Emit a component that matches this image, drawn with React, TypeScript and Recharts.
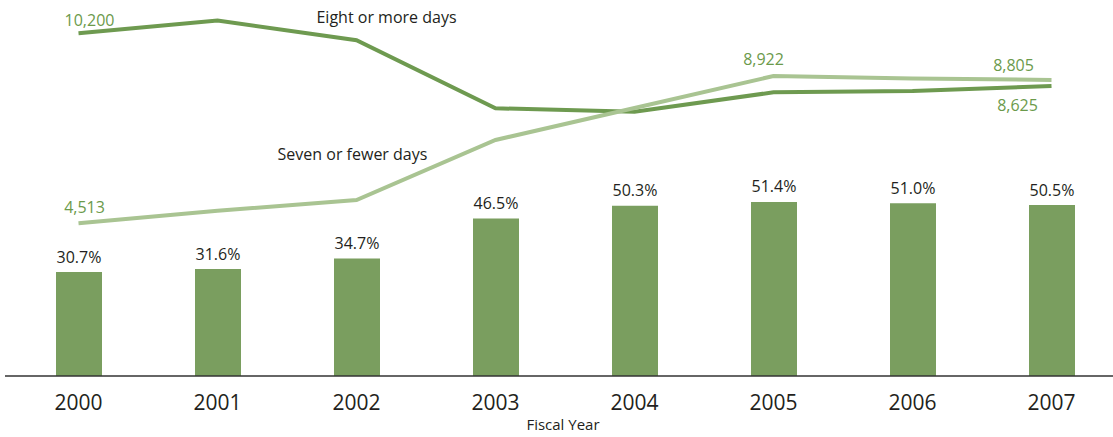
import React from 'react';
import { ComposedChart, Bar, Line, XAxis, YAxis, LabelList, Label } from 'recharts';

const years = ['2000', '2001', '2002', '2003', '2004', '2005', '2006', '2007'];
const sharePct = [30.7, 31.6, 34.7, 46.5, 50.3, 51.4, 51.0, 50.5];
const eightOrMore = [10200, 10580, 9990, 7955, 7853, 8434, 8473, 8625];
const sevenOrFewer = [4513, 4890, 5211, 7006, 7964, 8922, 8847, 8805];
const eightName = 'Eight or more days';
const sevenName = 'Seven or fewer days';
const axisTitle = 'Fiscal Year';

const data = years.map((y, i) => ({
  year: y,
  pct: sharePct[i],
  eight: eightOrMore[i],
  seven: sevenOrFewer[i],
}));

const FONT = '"Open Sans", sans-serif';
const TEXT = '#231f20';
const GREEN_TEXT = '#6b9a4b';
const BAR = '#7a9e5f';
const DARK_LINE = '#6e9a50';
const LIGHT_LINE = '#a9c492';

// label placement (dx, baseline dy) relative to the point
const eightValueOffsets: Record<number, [number, number]> = { 0: [11, -7.6], 7: [-34, 25.4] };
const sevenValueOffsets: Record<number, [number, number]> = { 0: [6, -10.6], 5: [-10, -11], 7: [-38, -9.3] };
const eightNameAt: [number, number, number] = [2, 30, -17];
const sevenNameAt: [number, number, number] = [2, -4, -40];

const fmt = (v: number) => v.toLocaleString('en-US');

const makeLineLabel = (offsets: Record<number, [number, number]>, nameAt: [number, number, number], name: string) =>
  (props: any) => {
    const { x, y, index, value } = props;
    const out: React.ReactNode[] = [];
    const o = offsets[index];
    if (o) {
      out.push(
        <text key="v" x={x + o[0]} y={y + o[1]} textAnchor="middle" fontFamily={FONT} fontSize={16} fill={GREEN_TEXT}>
          {fmt(Number(value))}
        </text>
      );
    }
    if (index === nameAt[0]) {
      out.push(
        <text key="n" x={x + nameAt[1]} y={y + nameAt[2]} textAnchor="middle" fontFamily={FONT} fontSize={16} fill={TEXT}>
          {name}
        </text>
      );
    }
    if (out.length === 0) return null;
    return <g>{out}</g>;
  };

const BarLabel = (props: any) => {
  const { x, y, width, value } = props;
  return (
    <text x={x + width / 2} y={y - 9.5} textAnchor="middle" fontFamily={FONT} fontSize={16} fill={TEXT}>
      {Number(value).toFixed(1)}%
    </text>
  );
};

const YearTick = (props: any) => {
  const { x, y, payload } = props;
  return (
    <text x={x} y={y + 34.3} textAnchor="middle" fontFamily={FONT} fontSize={21} fill={TEXT}>
      {payload.value}
    </text>
  );
};

const TitleLabel = (props: any) => {
  const vb = props.viewBox || {};
  return (
    <text x={vb.x + vb.width / 2} y={vb.y + 54} textAnchor="middle" fontFamily={FONT} fontSize={15} fill={TEXT}>
      {axisTitle}
    </text>
  );
};

export default function App() {
  return (
    <div style={{ position: 'fixed', left: 0, top: 0, width: 1113, height: 437, overflow: 'hidden', background: '#fff' }}>
      <ComposedChart
        width={1121}
        height={437}
        data={data}
        margin={{ top: 10, right: 0, bottom: 0, left: 5 }}
      >
        <XAxis
          dataKey="year"
          height={61}
          padding={{ left: 4, right: 0 }}
          tickLine={false}
          tickSize={0}
          tickMargin={0}
          axisLine={{ stroke: '#333333', strokeWidth: 1.7 }}
          tick={<YearTick />}
          interval={0}
        >
          <Label content={<TitleLabel />} />
        </XAxis>
        <YAxis yAxisId="pct" hide domain={[0, 108.1]} />
        <YAxis yAxisId="cnt" hide domain={[-57, 10897]} />
        <Bar yAxisId="pct" dataKey="pct" fill={BAR} barSize={46} isAnimationActive={false}>
          <LabelList dataKey="pct" content={<BarLabel />} />
        </Bar>
        <Line
          yAxisId="cnt"
          dataKey="eight"
          stroke={DARK_LINE}
          strokeWidth={4}
          dot={false}
          activeDot={false}
          type="linear"
          isAnimationActive={false}
        >
          <LabelList dataKey="eight" content={makeLineLabel(eightValueOffsets, eightNameAt, eightName)} />
        </Line>
        <Line
          yAxisId="cnt"
          dataKey="seven"
          stroke={LIGHT_LINE}
          strokeWidth={4}
          dot={false}
          activeDot={false}
          type="linear"
          isAnimationActive={false}
        >
          <LabelList dataKey="seven" content={makeLineLabel(sevenValueOffsets, sevenNameAt, sevenName)} />
        </Line>
      </ComposedChart>
    </div>
  );
}
